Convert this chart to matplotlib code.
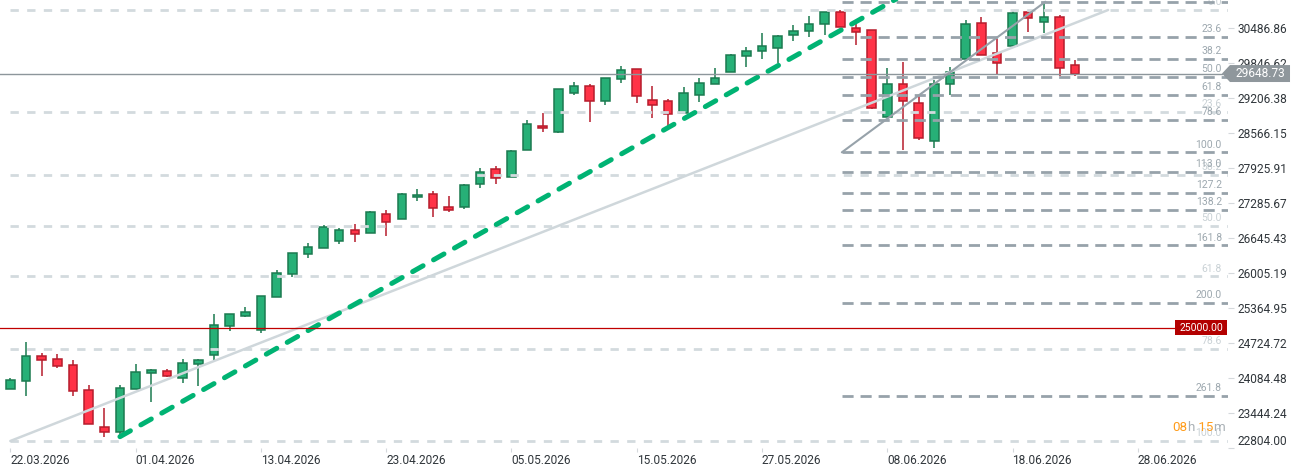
import numpy as np
import matplotlib
matplotlib.use('Agg')
import matplotlib.pyplot as plt
from matplotlib.patches import Polygon
from matplotlib.transforms import blended_transform_factory

plt.rcParams['font.family'] = ['Roboto', 'DejaVu Sans']

# дневные свечи (OHLC)
opens = [23877, 24023, 24480, 24426, 24316, 23859, 23183, 23091, 23877, 24170,
         24206, 24078, 24334, 24499, 25029, 25212, 24956, 25559, 25979, 26345,
         26455, 26583, 26784, 26729, 27076, 26985, 27387, 27442, 27204, 27204,
         27624, 27899, 27752, 28246, 28685, 28575, 29288, 29416, 29142, 29544,
         29727, 29160, 29142, 28922, 29251, 29452, 29672, 29964, 30056, 30110,
         30348, 30421, 30549, 30768, 30476, 30439, 28849, 29452, 29105, 28410,
         29452, 29909, 30567, 30019, 30147, 30768, 30586, 30677, 29800]
highs = [24078, 24742, 24535, 24517, 24413, 23950, 23535, 23950, 24340, 24243,
         24243, 24426, 24426, 25254, 25248, 25382, 25577, 26058, 26363, 26546,
         26875, 26820, 26899, 27131, 27149, 27460, 27533, 27496, 27405, 27624,
         27917, 27953, 28246, 28794, 28922, 29361, 29489, 29452, 29562, 29781,
         29727, 29416, 29178, 29397, 29562, 29745, 30006, 30129, 30385, 30348,
         30531, 30695, 30768, 30805, 30567, 30439, 29745, 29860, 29233, 29525,
         29763, 30622, 30677, 30275, 30787, 30768, 30951, 30714, 29891]
lows = [23877, 23760, 24126, 24272, 23760, 23237, 23011, 23042, 23877, 23651,
        24097, 23987, 23932, 24400, 24948, 25193, 24901, 25559, 25935, 26283,
        26455, 26539, 26564, 26729, 26685, 26985, 27314, 27021, 27113, 27167,
        27551, 27624, 27752, 28246, 28575, 28557, 29251, 28758, 29068, 29471,
        29105, 28831, 28648, 28922, 29123, 29452, 29672, 29763, 29909, 29836,
        30238, 30311, 30348, 30494, 30165, 28995, 28849, 28246, 28429, 28282,
        29251, 29909, 29982, 29635, 30110, 30403, 30385, 29599, 29599]
closes = [24042, 24480, 24407, 24298, 23841, 23237, 23091, 23896, 24188, 24225,
          24115, 24352, 24407, 25047, 25248, 25285, 25577, 25998, 26363, 26473,
          26838, 26784, 26710, 27113, 26930, 27442, 27423, 27186, 27149, 27606,
          27844, 27734, 28228, 28721, 28648, 29361, 29416, 29142, 29562, 29708,
          29233, 29068, 28904, 29288, 29471, 29562, 29982, 30056, 30147, 30330,
          30421, 30549, 30768, 30494, 30403, 29014, 29452, 29142, 28465, 29452,
          29672, 30549, 29982, 29836, 30750, 30659, 30677, 29745, 29648.73]

date_pos = [0, 8, 16, 24, 32, 40, 48, 56, 64, 72]
date_labels = ['22.03.2026', '01.04.2026', '13.04.2026', '23.04.2026', '05.05.2026',
               '15.05.2026', '27.05.2026', '08.06.2026', '18.06.2026', '28.06.2026']

price_ticks = [22804.00, 23444.24, 24084.48, 24724.72, 25364.95, 26005.19, 26645.43,
               27285.67, 27925.91, 28566.15, 29206.38, 29846.62, 30486.86]

last_price = 29648.73
level_price = 25000.00

# фибо №1 (короткое, тёмное) и №2 (длинное, светлое)
fibA_x = (53.1, 66.1)
fibA_p = (28209, 30962)
fibA_levels = [0, 23.6, 38.2, 50, 61.8, 78.6, 100, 113.0, 127.2, 138.2, 161.8, 200, 261.8]
fibB_x = (0, 70.1)
fibB_p = (22932, 30810)
fibB_levels = [0, 23.6, 38.2, 50, 61.8, 78.6, 100]

# зелёная трендовая
trend_x = (7, 50)
trend_p = (23011, 29951)

o = np.array(opens, float)
h = np.array(highs, float)
l = np.array(lows, float)
c = np.array(closes, float)
x = np.arange(len(o))
up = c >= o

fig = plt.figure(figsize=(12.94, 4.74), dpi=100)
ax = fig.add_axes([0, 26 / 474, 1228 / 1294, 448 / 474])
x_right = 77.76
ax.set_xlim(-0.66, x_right)
ax.set_ylim(22804, 30993)

wick = np.where(up, '#1b7a50', '#b71c2c')
body = np.where(up, '#27b077', '#ff3347')
ax.vlines(x, l, h, colors=wick, lw=1.1, zorder=2)
ax.bar(x, np.abs(c - o), bottom=np.minimum(o, c), width=0.55,
       color=body, edgecolor=wick, linewidth=1.1, zorder=3)

# уровни фибо
for fx, fp, levels, col, lcol, dash, z in [
        (fibB_x, fibB_p, fibB_levels, '#d3dade', '#c9d1d5', (3, 3), 4),
        (fibA_x, fibA_p, fibA_levels, '#97a2aa', '#9da8af', (4, 2.5), 5)]:
    hi, lo = fp[1], fp[0]
    for lv in levels:
        p = hi - lv / 100 * (hi - lo)
        ax.hlines(p, fx[0], x_right, colors=col, lw=2, linestyles=[(0, dash)], zorder=z)
        ax.annotate(f'{lv:.1f}', xy=(0.995, p), xycoords=ax.get_yaxis_transform(),
                    xytext=(0, 2), textcoords='offset points', ha='right', va='bottom',
                    fontsize=7.5, color=lcol, zorder=z, annotation_clip=False)
    ax.plot(fx, fp, color=col if z == 5 else '#cfd7db', lw=1.5 if z == 5 else 1.8,
            zorder=z, solid_capstyle='round')

k = (trend_p[1] - trend_p[0]) / (trend_x[1] - trend_x[0])
tx = np.array([trend_x[0], 62])
ax.plot(tx, trend_p[0] + k * (tx - trend_x[0]), color='#00b373', lw=3.6,
        linestyle=(0, (2.4, 2.4)), dash_capstyle='round', zorder=6)

ax.axhline(last_price, xmax=1222 / 1228, color='#8d969b', lw=1.0, zorder=6)
ax.axhline(level_price, xmax=1175 / 1228, color='#c00000', lw=0.9, zorder=6)

tr = blended_transform_factory(ax.transAxes, ax.transData)
hh = 155
ax.add_patch(Polygon([(0.9951, last_price), (1.0016, last_price + hh), (1.0505, last_price + hh),
                      (1.0505, last_price - hh), (1.0016, last_price - hh)],
                     closed=True, facecolor='#8f979c', edgecolor='none',
                     transform=tr, clip_on=False, zorder=10))
ax.text(1.026, last_price, f'{last_price:.2f}', transform=tr, ha='center', va='center',
        color='white', fontsize=8.6, zorder=11, clip_on=False)
hr = 137
ax.add_patch(Polygon([(0.9568, level_price + hr), (0.9992, level_price + hr),
                      (0.9992, level_price - hr), (0.9568, level_price - hr)],
                     closed=True, facecolor='#b30000', edgecolor='none',
                     transform=tr, clip_on=False, zorder=10))
ax.text(0.978, level_price, f'{level_price:.2f}', transform=tr, ha='center', va='center',
        color='white', fontsize=7.5, zorder=11, clip_on=False)

# таймер свечи
t1 = ax.text(0.9544, 23170, '08', transform=tr, color='#ff9c1a', fontsize=9.6,
             va='center', ha='left', zorder=11)
t2 = ax.annotate('h', xy=(1, 0), xycoords=t1, va='bottom', ha='left',
                 color='#a9b0b5', fontsize=9.6, zorder=11)
t3 = ax.annotate(' 15', xy=(1, 0), xycoords=t2, va='bottom', ha='left',
                 color='#ff9c1a', fontsize=9.6, zorder=11)
ax.annotate('m', xy=(1, 0), xycoords=t3, va='bottom', ha='left',
            color='#a9b0b5', fontsize=9.6, zorder=11)

for s in ax.spines.values():
    s.set_visible(False)
ax.yaxis.tick_right()
ax.set_yticks(price_ticks)
ax.set_yticklabels([f'{v:.2f}' for v in price_ticks])
ax.get_yticklabels()[0].set_va('bottom')
ax.set_xticks(date_pos)
ax.set_xticklabels(date_labels)
for t in ax.get_xticklabels():
    t.set_ha('left')
ax.tick_params(axis='y', length=4, width=0.8, color='#d5d9dc', pad=3,
               labelsize=8.6, labelcolor='#30363b')
ax.tick_params(axis='x', length=3, width=0.8, color='#d5d9dc', pad=1.5,
               labelsize=8.6, labelcolor='#30363b')

fig.savefig('out.png', dpi=100)
